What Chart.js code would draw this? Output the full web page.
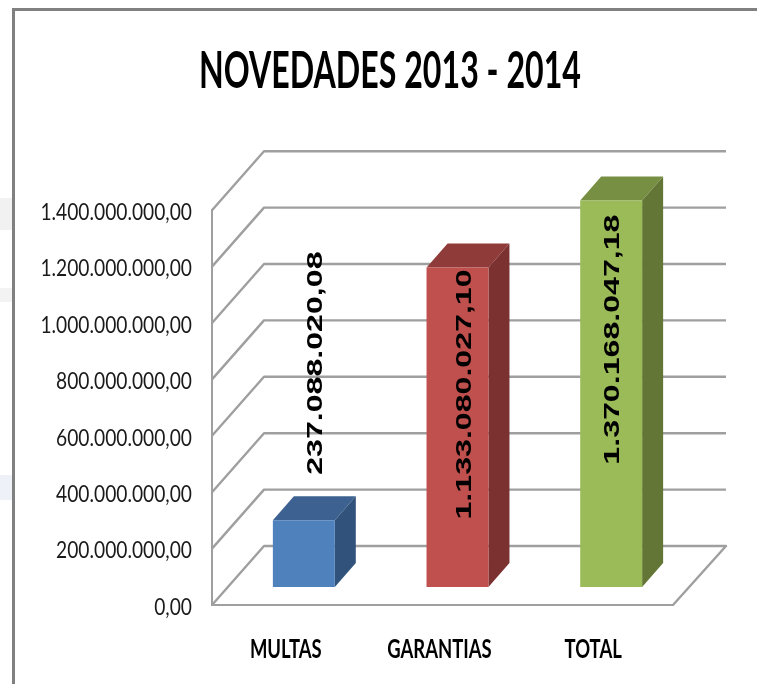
<!DOCTYPE html>
<html>
<head>
<meta charset="UTF-8" />
<script src="https://cdn.jsdelivr.net/npm/chart.js"></script>
<style>
  html, body { margin: 0; padding: 0; background: #fff; overflow: hidden; }
  #wrap { position: relative; width: 757px; height: 684px; }
  #frame { position: absolute; left: 12px; top: 8px; width: 760px; height: 700px; border: 3px solid #808080; box-sizing: border-box; }
  .smudge { position: absolute; left: 0; width: 12px; }
  canvas { position: absolute; left: 0; top: 0; filter: blur(0.4px); }
</style>
</head>
<body>
<div id="wrap">
  <div class="smudge" style="top:198px;height:32px;background:#f1f1f1"></div>
  <div class="smudge" style="top:288px;height:14px;background:#f3f3f3"></div>
  <div class="smudge" style="top:475px;height:25px;background:#eef2f8"></div>
  <div id="frame"></div>
  <canvas id="chart" width="757" height="684"></canvas>
</div>
<script>
const categories = ["MULTAS", "GARANTIAS", "TOTAL"];
const values = [237088020.08, 1133080027.10, 1370168047.18];
const valueLabels = ["237.088.020,08", "1.133.080.027,10", "1.370.168.047,18"];
const yTickLabels = ["0,00", "200.000.000,00", "400.000.000,00", "600.000.000,00",
  "800.000.000,00", "1.000.000.000,00", "1.200.000.000,00", "1.400.000.000,00"];
const faceColors = ["#4f81bd", "#c0504d", "#9bbb59"];
const topColors = ["#3d6291", "#8f3b39", "#778f43"];
const sideColors = ["#31527a", "#7b3130", "#647636"];

const gridColor = "#9f9f9f";
const bodyFont = "Lato, sans-serif";

// depth of the fake 3D box
const wallDx = 52, wallDy = -59;
const barShiftX = 15, barShiftY = -18;
const barDx = 21, barDy = -24;
// where Excel left each label, relative to the top centre of the bar
const labelDx = [12, 7, 2];
const labelDy = [-157, 127, 139];

// no condensed font here: fillText squeezes the text when it gets a maxWidth
function condense(scale, fontCss, ratio) {
  const original = scale.getLabelItems;
  scale.getLabelItems = function (area) {
    const items = original.call(this, area);
    const ctx = this.ctx;
    ctx.save();
    ctx.font = fontCss;
    items.forEach((item) => {
      item.options.maxWidth = ctx.measureText(item.label).width * ratio;
    });
    ctx.restore();
    return items;
  };
}

const box3d = {
  id: "box3d",
  afterLayout(chart) {
    // title is squeezed to its width in the reference
    chart.titleBlock.left = 199;
    chart.titleBlock.right = 581;
  },
  beforeDatasetsDraw(chart) {
    const { ctx, chartArea, scales } = chart;
    const left = chartArea.left, right = chartArea.right;

    // walls and floor
    ctx.save();
    ctx.strokeStyle = gridColor;
    ctx.lineWidth = 2.4;
    ctx.lineJoin = "round";
    scales.y.ticks.forEach((t) => {
      const y = scales.y.getPixelForValue(t.value);
      ctx.beginPath();
      ctx.moveTo(left, y);
      ctx.lineTo(left + wallDx, y + wallDy);
      ctx.lineTo(right + wallDx + 1, y + wallDy);
      if (t.value === 0) ctx.lineTo(right, y);
      ctx.stroke();
    });
    ctx.restore();

    // bars stand in the middle of the floor, so everything moves back a bit
    ctx.save();
    ctx.translate(barShiftX, barShiftY);
    chart.getDatasetMeta(0).data.forEach((bar, i) => {
      const l = bar.x - bar.width / 2, r = bar.x + bar.width / 2;
      ctx.fillStyle = topColors[i];
      ctx.beginPath();
      ctx.moveTo(l, bar.y);
      ctx.lineTo(l + barDx, bar.y + barDy);
      ctx.lineTo(r + barDx, bar.y + barDy);
      ctx.lineTo(r, bar.y);
      ctx.closePath();
      ctx.fill();
      ctx.fillStyle = sideColors[i];
      ctx.beginPath();
      ctx.moveTo(r, bar.y);
      ctx.lineTo(r + barDx, bar.y + barDy);
      ctx.lineTo(r + barDx, bar.base + barDy);
      ctx.lineTo(r, bar.base);
      ctx.closePath();
      ctx.fill();
    });
  },
  afterDatasetsDraw(chart) {
    const { ctx } = chart;
    ctx.restore();

    // rotated value labels, stretched like the original
    chart.getDatasetMeta(0).data.forEach((bar, i) => {
      ctx.save();
      ctx.translate(bar.x + barShiftX + labelDx[i], bar.y + barShiftY + labelDy[i]);
      ctx.rotate(-Math.PI / 2);
      ctx.scale(1.46, 1);
      ctx.font = "bold 22px 'Liberation Sans', Arial, sans-serif";
      ctx.fillStyle = "#000";
      ctx.textAlign = "center";
      ctx.textBaseline = "middle";
      ctx.fillText(valueLabels[i], 0, 0);
      ctx.restore();
    });
  },
};

new Chart(document.getElementById("chart").getContext("2d"), {
  type: "bar",
  data: {
    labels: categories,
    datasets: [{
      data: values,
      backgroundColor: faceColors,
      borderWidth: 0,
      categoryPercentage: 1,
      barPercentage: 0.403,
      clip: false,
    }],
  },
  plugins: [box3d],
  options: {
    animation: false,
    responsive: false,
    layout: { padding: { left: 20, right: 84, top: 0, bottom: 0 } },
    plugins: {
      legend: { display: false },
      tooltip: { enabled: false },
      title: {
        display: true,
        text: "NOVEDADES 2013 - 2014",
        color: "#000",
        font: { family: bodyFont, size: 51, weight: "bold", lineHeight: 1.2 },
        padding: { top: 41, bottom: 108 },
      },
    },
    scales: {
      x: {
        afterFit(s) { s.height = 79; },
        afterUpdate(s) { condense(s, "bold 26px " + bodyFont, 0.71); },
        grid: { display: false },
        border: { color: gridColor, width: 2 },
        ticks: {
          color: "#000",
          padding: 21,
          labelOffset: -3,
          maxRotation: 0,
          font: { family: bodyFont, size: 26, weight: "bold" },
        },
      },
      y: {
        min: 0,
        max: 1400000000,
        afterFit(s) { s.width = 192; },
        afterUpdate(s) { condense(s, "24px " + bodyFont, 0.8); },
        grid: { display: false },
        border: { color: gridColor, width: 2 },
        ticks: {
          stepSize: 200000000,
          color: "#1a1a1a",
          padding: 12,
          labelOffset: 2,
          font: { family: bodyFont, size: 24 },
          callback: (v, i) => yTickLabels[i],
        },
      },
    },
  },
});
</script>
</body>
</html>
